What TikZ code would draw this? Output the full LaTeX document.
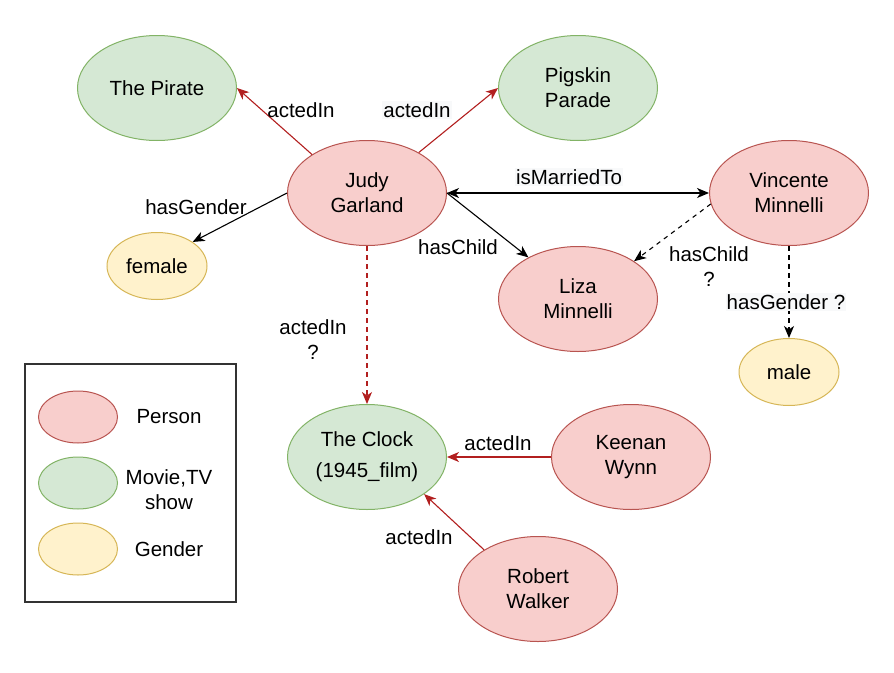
\documentclass[tikz,border=0pt]{standalone}
\usepackage{fontspec}
\setmainfont{Liberation Sans}
\usetikzlibrary{shapes.geometric,arrows.meta}

\definecolor{personfill}{HTML}{F8CECC}
\definecolor{persondraw}{HTML}{B85450}
\definecolor{moviefill}{HTML}{D5E8D4}
\definecolor{moviedraw}{HTML}{82B366}
\definecolor{genderfill}{HTML}{FFF2CC}
\definecolor{genderdraw}{HTML}{D6B656}
\definecolor{actred}{HTML}{B21F1F}
\definecolor{lblfill}{HTML}{F8F9FA}

\tikzset{
    entity/.style={ellipse, inner sep=0pt, line width=1pt, align=center,
        minimum width=159pt, minimum height=105pt},
    person/.style={entity, draw=persondraw, fill=personfill},
    movie/.style={entity, draw=moviedraw, fill=moviefill},
    gender/.style={entity, minimum width=100pt, minimum height=67pt,
        draw=genderdraw, fill=genderfill},
    legendkey/.style={entity, minimum width=79pt, minimum height=52pt},
    lbl/.style={inner sep=1pt, align=center},
    lblbg/.style={lbl, fill=lblfill},
    tip/.tip={Stealth[length=12pt,width=10pt,inset=3.5pt]},
    rel/.style={line width=1.1pt, -tip},
    acted/.style={rel, draw=actred},
    guess/.style={dash pattern=on 4.5pt off 4.5pt},
}

\begin{document}
\begin{tikzpicture}[x=1pt, y=-1pt, font=\fontsize{20.5}{25}\selectfont]
    \useasboundingbox (0,0) rectangle (894,672);

    \node[movie] (pirate) at (157,88) {The Pirate};
    \node[movie] (pigskin) at (578,88) {Pigskin\\Parade};
    \node[person] (judy) at (367,193) {Judy\\Garland};
    \node[person] (vincente) at (789,193) {Vincente\\Minnelli};
    \node[gender] (female) at (157,266) {female};
    \node[person] (liza) at (578,299) {Liza\\Minnelli};
    \node[gender] (male) at (789,372) {male};
    \node[movie] (clock) at (367,457) {The Clock\\[6pt](1945\_film)};
    \node[person] (keenan) at (631,457) {Keenan\\Wynn};
    \node[person] (robert) at (538,589) {Robert\\Walker};

    \draw[acted] (judy.145) -- (pirate.east);
    \draw[acted] (judy.38) -- (pigskin.west);
    \draw[rel] (judy.west) -- (female.34);
    \draw[rel, tip-tip] (judy.east) -- (vincente.west);
    \draw[rel] (judy.east) -- (liza.140);
    \draw[rel, guess] (vincente.188) -- (liza.34);
    \draw[rel, guess] (vincente.south) -- (male.north);
    \draw[acted, guess] (judy.south) -- (clock.north);
    \draw[acted] (keenan.west) -- (clock.east);
    \draw[acted] (robert.144) -- (clock.-33);

    \node[lbl] (l1) at (301,110) {actedIn};
    \node[lblbg] (l2) at (417,110) {actedIn};
    \node[lbl] (l3) at (196,207) {hasGender};
    \node[lblbg] (l4) at (569,177) {isMarriedTo};
    \node[lbl] (l5) at (458,247) {hasChild};
    \node[lbl] (l6) at (709,267) {hasChild\\?};
    \node[lblbg] (l7) at (786,302) {hasGender ?};
    \node[lbl] (l8) at (313,340) {actedIn\\?};
    \node[lbl] (l9) at (498,443) {actedIn};
    \node[lbl] (l10) at (419,537) {actedIn};

    \draw[line width=1.3pt, black!80] (25,364) rectangle (236,602);
    \node[legendkey, draw=persondraw, fill=personfill] (kperson) at (78,417) {};
    \node[legendkey, draw=moviedraw, fill=moviefill] (kmovie) at (78,483) {};
    \node[legendkey, draw=genderdraw, fill=genderfill] (kgender) at (78,549) {};
    \node[lbl] (tperson) at (169,417) {Person};
    \node[lbl] (tmovie) at (169,490) {Movie,TV\\show};
    \node[lbl] (tgender) at (169,549) {Gender};
\end{tikzpicture}
\end{document}
